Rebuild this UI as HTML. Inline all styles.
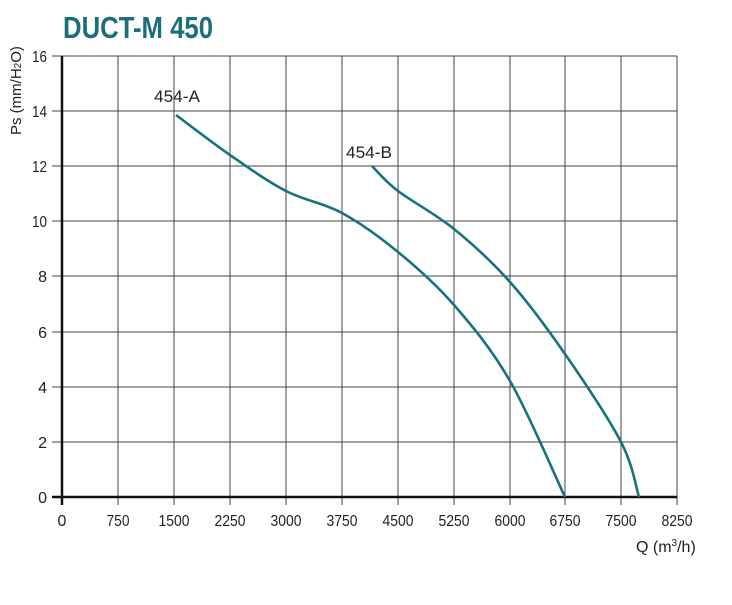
<!DOCTYPE html>
<html><head><style>
body{margin:0;background:#fff;}
svg text{font-family:"Liberation Sans Narrow","Liberation Sans",sans-serif;fill:#222;}
</style></head><body>
<svg width="732" height="600" viewBox="0 0 732 600" xmlns="http://www.w3.org/2000/svg">
<text x="63" y="38" textLength="150" lengthAdjust="spacingAndGlyphs" style="font-size:31px;font-weight:bold;fill:#1b6f7b">DUCT-M 450</text>
<g stroke="#444" stroke-width="1">
<line x1="52" y1="56" x2="677" y2="56"/>
<line x1="52" y1="111" x2="677" y2="111"/>
<line x1="52" y1="166" x2="677" y2="166"/>
<line x1="52" y1="221" x2="677" y2="221"/>
<line x1="52" y1="276" x2="677" y2="276"/>
<line x1="52" y1="332" x2="677" y2="332"/>
<line x1="52" y1="387" x2="677" y2="387"/>
<line x1="52" y1="442" x2="677" y2="442"/>
<line x1="118" y1="56" x2="118" y2="505"/>
<line x1="174" y1="56" x2="174" y2="505"/>
<line x1="230" y1="56" x2="230" y2="505"/>
<line x1="286" y1="56" x2="286" y2="505"/>
<line x1="342" y1="56" x2="342" y2="505"/>
<line x1="398" y1="56" x2="398" y2="505"/>
<line x1="454" y1="56" x2="454" y2="505"/>
<line x1="510" y1="56" x2="510" y2="505"/>
<line x1="565" y1="56" x2="565" y2="505"/>
<line x1="621" y1="56" x2="621" y2="505"/>
<line x1="677" y1="56" x2="677" y2="505"/>
</g>
<line x1="52" y1="497" x2="677" y2="497" stroke="#111" stroke-width="2.5"/>
<line x1="62" y1="56" x2="62" y2="505" stroke="#111" stroke-width="2.5"/>
<g style="font-size:16px" text-anchor="end">
<text x="47" y="62" textLength="15" lengthAdjust="spacingAndGlyphs">16</text><text x="47" y="117" textLength="15" lengthAdjust="spacingAndGlyphs">14</text><text x="47" y="172" textLength="15" lengthAdjust="spacingAndGlyphs">12</text>
<text x="47" y="227" textLength="15" lengthAdjust="spacingAndGlyphs">10</text><text x="47" y="282">8</text><text x="47" y="338">6</text>
<text x="47" y="393">4</text><text x="47" y="448">2</text><text x="47" y="503">0</text>
</g>
<g style="font-size:16px" text-anchor="middle">
<text x="62" y="526">0</text><text x="118" y="526" textLength="23" lengthAdjust="spacingAndGlyphs">750</text><text x="174" y="526" textLength="31" lengthAdjust="spacingAndGlyphs">1500</text>
<text x="230" y="526" textLength="31" lengthAdjust="spacingAndGlyphs">2250</text><text x="286" y="526" textLength="31" lengthAdjust="spacingAndGlyphs">3000</text><text x="342" y="526" textLength="31" lengthAdjust="spacingAndGlyphs">3750</text>
<text x="398" y="526" textLength="31" lengthAdjust="spacingAndGlyphs">4500</text><text x="454" y="526" textLength="31" lengthAdjust="spacingAndGlyphs">5250</text><text x="510" y="526" textLength="31" lengthAdjust="spacingAndGlyphs">6000</text>
<text x="565" y="526" textLength="31" lengthAdjust="spacingAndGlyphs">6750</text><text x="621" y="526" textLength="31" lengthAdjust="spacingAndGlyphs">7500</text><text x="677" y="526" textLength="31" lengthAdjust="spacingAndGlyphs">8250</text>
</g>
<text x="636" y="552" style="font-size:16px">Q (m<tspan dy="-6" style="font-size:10px">3</tspan><tspan dy="6">/h)</tspan></text>
<text transform="translate(21,135) rotate(-90)" style="font-size:15px">Ps (mm/H<tspan style="font-size:10px">2</tspan>O)</text>
<text x="154" y="102" textLength="46" lengthAdjust="spacingAndGlyphs" style="font-size:17px">454-A</text>
<text x="346" y="158" textLength="46" lengthAdjust="spacingAndGlyphs" style="font-size:17px">454-B</text>
<g fill="none" stroke="#17737e" stroke-width="2.6">
<path d="M176,115 C185,121.7 211.7,142.3 230,155 C248.3,167.7 267.3,181.3 286,191 C304.7,200.7 323.3,202.8 342,213 C360.7,223.2 379.3,236.7 398,252 C416.7,267.3 435.3,283.5 454,305 C472.7,326.5 491.5,349 510,381 C528.5,413 555.8,477.7 565,497"/>
<path d="M372,166 C376.3,170.2 384.3,180.5 398,191 C411.7,201.5 435.3,213.8 454,229 C472.7,244.2 491.5,261.2 510,282 C528.5,302.8 546.5,327.3 565,354 C583.5,380.7 608.7,418.2 621,442 C633.3,465.8 636,487.8 639,497"/>
</g>
</svg>
</body></html>
